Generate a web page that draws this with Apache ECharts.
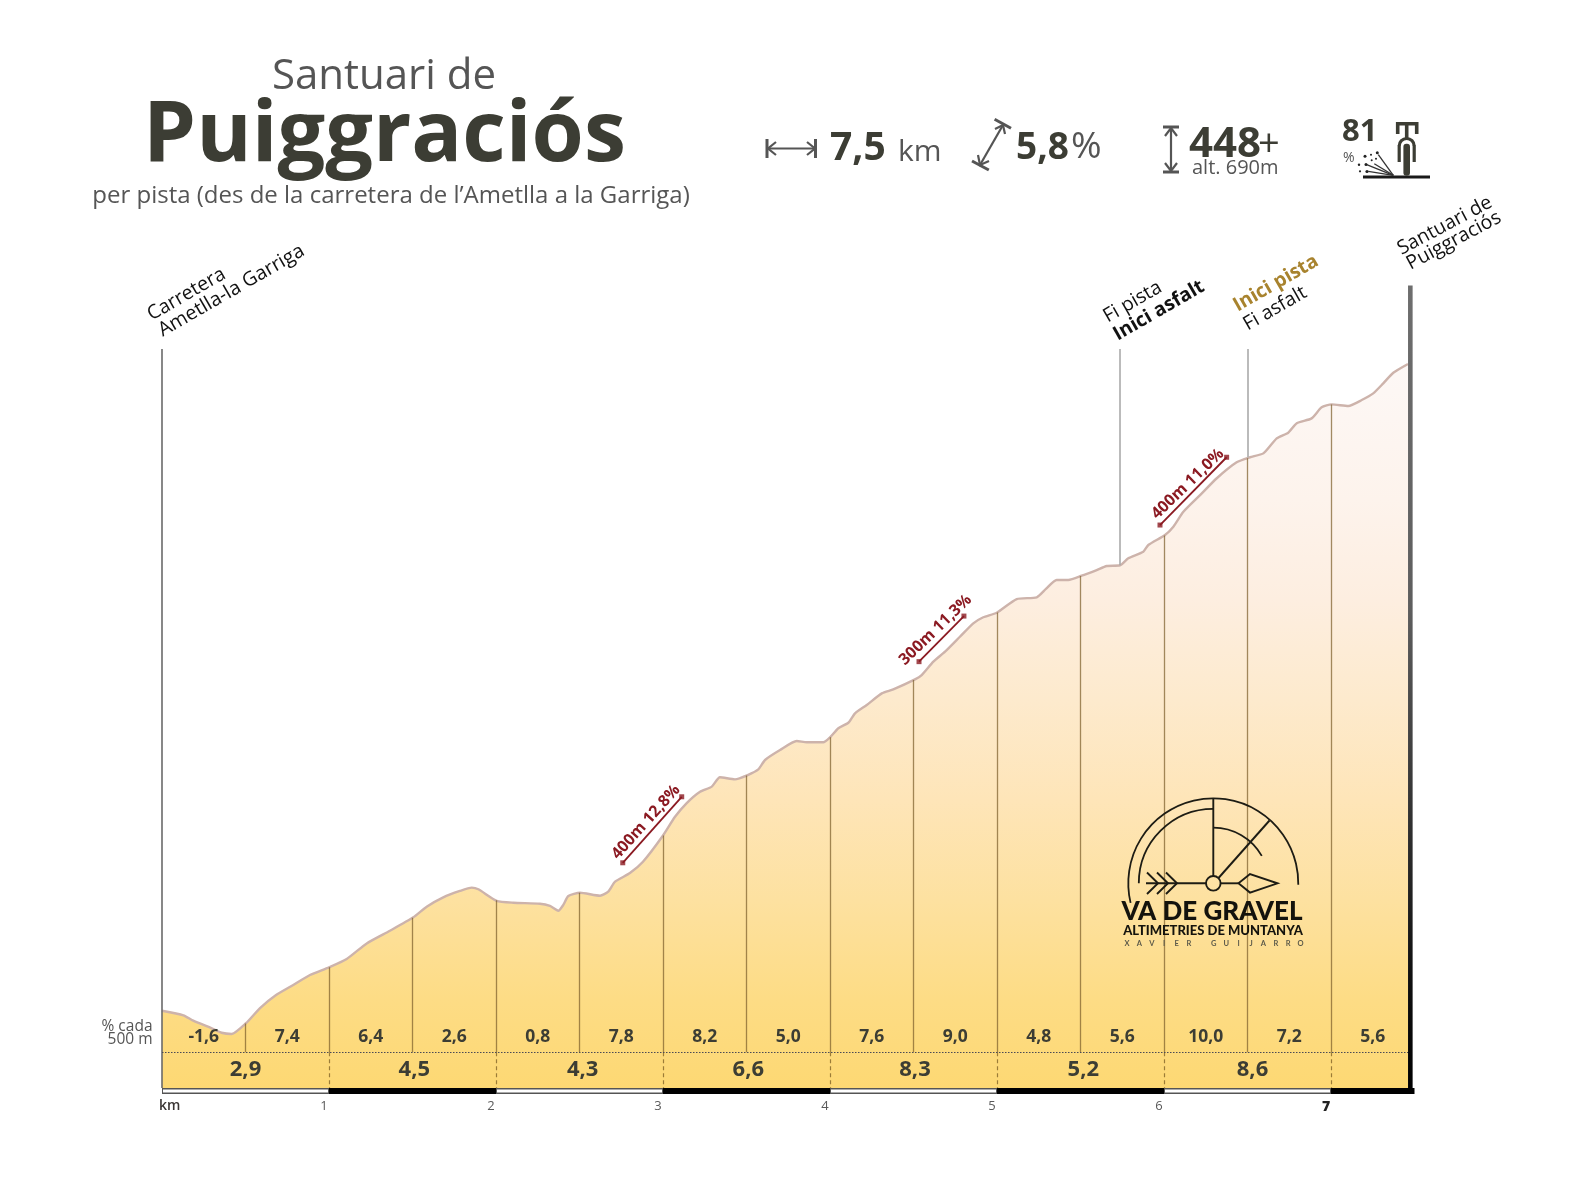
<!DOCTYPE html>
<html><head><meta charset="utf-8">
<style>html,body{margin:0;padding:0;background:#fff}#c{width:1575px;height:1200px}</style>
<script src="https://cdn.jsdelivr.net/npm/echarts@6/dist/echarts.min.js"></script>
</head><body><div id="c"></div>
<script>
const profileKm = [0,.128,.187,.298,.357,.417,.503,.587,.677,.786,.886,1,1.106,1.226,1.365,1.505,1.585,1.684,1.784,1.855,1.894,2.004,2.104,2.263,2.323,2.373,2.403,2.433,2.503,2.623,2.672,2.713,2.802,2.88,2.998,3.072,3.142,3.222,3.292,3.341,3.431,3.507,3.571,3.611,3.701,3.801,3.861,3.96,4,4.05,4.11,4.15,4.22,4.31,4.379,4.509,4.549,4.619,4.689,4.778,4.858,4.918,4.998,5.118,5.238,5.293,5.357,5.427,5.507,5.597,5.657,5.737,5.786,5.876,5.906,6.006,6.056,6.116,6.216,6.316,6.435,6.515,6.595,6.675,6.744,6.795,6.884,6.944,7.004,7.104,7.184,7.253,7.313,7.373,7.461];
const profileAlt = [255.9,252.8,249.2,244.1,241.1,240.3,247.5,257.7,266,273.2,279.9,285,290.6,301.1,309.6,318.6,325.7,332,336.3,338.5,337.4,329.7,328.4,327.7,326.2,323,326.9,332.9,335.1,333.1,335.8,342.5,348.3,355.9,373.2,386.1,395.3,402.9,406.3,412.6,411.2,414.1,417.9,424.2,430.9,436.9,436.1,436.1,439.4,445.5,449.2,455.5,461.1,468.9,471.6,478.3,481.2,490.2,496.9,506.9,515.9,520,523,532.2,533.4,539,545,545,547.9,551.7,554.4,554.9,559.6,564,568.5,575.2,580.8,590.8,602,613.3,624,627.4,630,640.1,643.9,650.2,653.5,660.9,662.9,661.8,665.8,670.3,677,684.1,690];
const halfKmMarks = [.5,1,1.5,2,2.5,3,3.5,4,4.5,5,5.5,6,6.5,7];
const kmMarks = [1,2,3,4,5,6,7];
const halfKmPos = [.25,.75,1.25,1.75,2.25,2.75,3.25,3.75,4.25,4.75,5.25,5.75,6.25,6.75,7.25];
const halfKmText = ['-1,6','7,4','6,4','2,6','0,8','7,8','8,2','5,0','7,6','9,0','4,8','5,6','10,0','7,2','5,6'];
const kmPos = [.5,1.511,2.519,3.511,4.509,5.517,6.53];
const kmText = ['2,9','4,5','4,3','6,6','8,3','5,2','8,6'];
const tickLabels = ['','1','2','3','4','5','6','7'];
const barStart = [0,1,2,3,4,5,6,7];
const barEnd = [1,2,3,4,5,6,7,7.5];
const noteText = ['400m 12,8%','300m 11,3%','400m 11,0%'];
const noteFromKm = [2.759,4.533,5.976], noteFromAlt = [355.2,490.2,581.9];
const noteToKm = [3.112,4.802,6.375], noteToAlt = [399.5,520.8,627.4];
const noteMidKm = [2.898,4.632,6.142], noteMidAlt = [382.5,511.5,609.5];
const noteAngle = [48,44,44];
const placeMarks = [{km:0,top:700,low:204},{km:5.737,top:700,low:554.9},{km:6.5,top:700,low:627.4}];
const dottedAlt = 228, barTopAlt = 204, baseAlt = 200, topAlt = 750, endKm = 7.475;

const FONT = '"Open Sans"';
const DARK = '#3c3d34', GREY = '#555555', RED = '#8b1a22';
const altAt = k => { for (let i=1;i<profileKm.length;i++) if (k<=profileKm[i]) { const t=(k-profileKm[i-1])/(profileKm[i]-profileKm[i-1]); return profileAlt[i-1]+t*(profileAlt[i]-profileAlt[i-1]); } return profileAlt[profileAlt.length-1]; };
const seg = (name, coords, color, width, type) => ({type:'lines',name,coordinateSystem:'cartesian2d',silent:true,polyline:false,z:4,
  data:coords.map(c=>({coords:c})),lineStyle:{color,width,type:type||'solid',opacity:1},effect:{show:false}});

const txt = (text,x,y,size,weight,fill,align,rot) => ({type:'text',x,y,rotation:(rot||0)*Math.PI/180,silent:true,
  style:{text,font:`${weight} ${size}px ${FONT}`,fill,textAlign:align||'left',textVerticalAlign:'middle'}});
const pl = (pts,stroke,w) => ({type:'polyline',silent:true,shape:{points:pts},style:{stroke,lineWidth:w,fill:null}});
const arc = (cx,cy,r,a,b,stroke,w) => ({type:'arc',silent:true,shape:{cx,cy,r,startAngle:a*Math.PI/180,endAngle:b*Math.PI/180,clockwise:true},style:{stroke,lineWidth:w,fill:null}});
const dot = (cx,cy,r,fill) => ({type:'circle',silent:true,shape:{cx,cy,r},style:{fill}});
const I='#555555', L='#1d1c14', B='#3c3d34';
const signature = 'XAVIER GUIJARRO'.split('');
const graphics = [
  txt('Santuari de',384,77,42,400,GREY,'center'),
  txt('Puiggraciós',384.5,137,84.5,700,DARK,'center'),
  txt('per pista (des de la carretera de l’Ametlla a la Garriga)',391,196,24,400,GREY,'center'),
  txt('7,5',830,149,39,700,DARK),txt('km',898,152,30,400,GREY),
  txt('5,8',1016,148,37,700,DARK),txt('%',1071,147,37,400,GREY),
  txt('448',1189,145,42,700,DARK),txt('+',1258,145,38,400,DARK),
  txt('alt. 690m',1192,168,20,400,GREY),
  txt('81',1342,132,31,700,DARK),txt('%',1343,158,14,400,GREY),
  pl([[767,139],[767,158]],I,3),pl([[815.5,139],[815.5,158]],I,3),pl([[768,148.5],[815,148.5]],I,2.2),
  pl([[776,142],[768,148.5],[776,155]],I,2.2),pl([[807,142],[815,148.5],[807,155]],I,2.2),
  pl([[994.6,119.3],[1011,128.3]],I,3),pl([[972,161],[988.8,170]],I,3),pl([[1003,125],[980,165]],I,2.2),
  pl([[995,129],[1003,125],[1005,134]],I,2.2),pl([[978,155],[980,165],[989,161]],I,2.2),
  pl([[1163,127],[1179,127]],I,3),pl([[1163,172],[1179,172]],I,3),pl([[1171,128],[1171,171]],I,2.2),
  pl([[1165,136],[1171,128],[1177,136]],I,2.2),pl([[1165,163],[1171,171],[1177,163]],I,2.2),
  pl([[1363,177],[1430,177]],'#1a1a1a',2.8),
  {type:'rect',silent:true,shape:{x:1403.4,y:143.7,width:6.6,height:32,r:3},style:{fill:B}},
  arc(1406.7,146,7.5,180,360,B,3.2),
  pl([[1399.2,145.5],[1399.2,162]],B,3.2),pl([[1414.2,145.5],[1414.2,162]],B,3.2),
  pl([[1406.7,123.7],[1406.7,139]],B,3.6),
  pl([[1397.7,134],[1397.7,123.7],[1416.7,123.7],[1416.7,134]],B,3.6),
  pl([[1393.3,175.3],[1378.3,154.7]],'#333',1.3),pl([[1393.3,175.3],[1374.3,163.7]],'#333',1.3),pl([[1393.3,175.3],[1366.7,164.7]],'#333',1.3),pl([[1393.3,175.3],[1368.3,171.3]],'#333',1.3),
  dot(1365,156.3,1.5,'#222'),dot(1371,154.7,1,'#222'),dot(1377.3,152.7,1.5,'#222'),dot(1359,164.7,1.2,'#222'),dot(1366,164.5,1.5,'#222'),dot(1360,171.3,1.1,'#222'),dot(1367,171.5,1.6,'#222'),dot(1371.7,160.3,1,'#222'),dot(1376,158.7,1,'#222'),
  txt('Carretera',149,316,19.5,400,'#111','left',30),
  txt('Ametlla-la Garriga',160,332,19.7,400,'#111','left',30),
  txt('Fi pista',1105,318,19.5,400,'#111','left',30),
  txt('Inici asfalt',1115,336,19.5,700,'#111','left',30),
  txt('Inici pista',1235,307,19.5,700,'#a8832e','left',30),
  txt('Fi asfalt',1245,326,19.5,400,'#111','left',30),
  txt('Santuari de',1399,250,19.5,400,'#111','left',28),
  txt('Puiggraciós',1408,265,19.5,400,'#111','left',28),
  txt('% cada',152.5,1027,15.5,400,GREY,'right'),txt('500 m',152.5,1040,15.5,400,GREY,'right'),
  txt('km',159,1106,14,600,'#3a3533'),
  // logo
  arc(1213.3,883.3,85,166.7,361,L,1.8),arc(1213.3,883.3,74.5,180,270,L,1.8),arc(1213.3,883.3,55.7,270,330.5,L,1.8),
  pl([[1213.3,798.3],[1213.3,876]],L,1.9),pl([[1218.5,878],[1269.5,820.5]],L,1.9),
  pl([[1146,883.3],[1206,883.3]],L,1.9),pl([[1220.6,883.3],[1238.5,883.3]],L,1.9),
  {type:'circle',silent:true,shape:{cx:1213.3,cy:883.3,r:7.3},style:{stroke:L,lineWidth:1.9,fill:null}},
  {type:'polygon',silent:true,shape:{points:[[1238.5,883.3],[1250,874],[1277.5,883.3],[1250,892.6]]},style:{stroke:L,lineWidth:1.9,fill:null}},
  pl([[1147,872.5],[1158,883.3],[1147,894]],L,1.9),pl([[1157,872.5],[1168,883.3],[1157,894]],L,1.9),pl([[1166,872.5],[1177,883.3],[1166,894]],L,1.9),
  {type:'text',x:1212,y:912,silent:true,style:{text:'VA DE GRAVEL',font:'900 26px Lato',fill:'#14130d',textAlign:'center',textVerticalAlign:'middle'}},
  {type:'text',x:1213,y:931,silent:true,style:{text:'ALTIMETRIES DE MUNTANYA',font:'900 13px Lato',fill:'#14130d',textAlign:'center',textVerticalAlign:'middle'}},
  ...signature.map((ch,i)=>({type:'text',x:1127+i*12.4,y:943.5,silent:true,style:{text:ch,font:'700 7.5px Lato',fill:'#5c5a4a',textAlign:'center',textVerticalAlign:'middle'}}))
].map(e=>Object.assign(e,{z:100}));

const vert = 'rgba(125,95,45,0.72)';
const option = {
  backgroundColor:'#fff', animation:false, graphic:{elements:graphics},
  grid:{left:162,width:1252.5,top:274.6,height:819.4,containLabel:false},
  xAxis:{type:'value',min:0,max:7.5,interval:1,splitLine:{show:false},axisLine:{show:false},axisTick:{show:false},
    axisLabel:{show:true,showMaxLabel:false,showMinLabel:false,margin:6,color:'#5a5a5a',fontFamily:FONT,fontSize:13,padding:[0,10,0,0],
      formatter:v=>{const s=tickLabels[v]||''; return v===7?'{b|'+s+'}':s;},rich:{b:{fontWeight:800,color:'#222',fontSize:14,fontFamily:FONT}}}},
  yAxis:{type:'value',min:baseAlt,max:topAlt,show:false},
  series:[
    {type:'line',name:'Perfil',data:profileKm.map((k,i)=>[k,profileAlt[i]]),showSymbol:false,smooth:0.2,z:2,silent:true,
      lineStyle:{color:'#cdb3ab',width:2.4},
      areaStyle:{opacity:1,origin:'start',color:new echarts.graphic.LinearGradient(0,0,0,1,[
        {offset:0,color:'#fdf8f6'},{offset:.186,color:'#fdf3ec'},{offset:.323,color:'#fdeee0'},{offset:.46,color:'#fdeacd'},
        {offset:.597,color:'#fee5b8'},{offset:.734,color:'#fde1a0'},{offset:.871,color:'#fddc85'},{offset:1,color:'#fdd872'}])}},
    seg('Parcials',halfKmMarks.map(k=>[[k,altAt(k)],[k,dottedAlt]]),vert,1.3),
    seg('Km',kmMarks.map(k=>[[k,dottedAlt],[k,barTopAlt]]),'rgba(130,100,40,0.8)',1.2,[4,3]),
    seg('Marques',[.5,1.5,2.5,3.5,4.5,5.5,6.5].map(k=>[[k,barTopAlt],[k,202.5]]),vert,1.2),
    seg('Punt0',[[[placeMarks[0].km,placeMarks[0].top],[placeMarks[0].km,placeMarks[0].low]]],'#6a6a6a',1.6),
    seg('Punts',placeMarks.slice(1).map(p=>[[p.km,p.top],[p.km,p.low]]),'#aaaaaa',1.6),
    seg('Punts500',[[[0,dottedAlt],[endKm,dottedAlt]]],'#4a4a55',1.1,[1.5,1.5]),
    {type:'custom',name:'Barra',coordinateSystem:'cartesian2d',clip:false,silent:true,z:5,data:barStart.map((s,i)=>[s,barEnd[i],i%2]),
      encode:{x:[0,1],y:[]},
      renderItem:(p,api)=>{const a=api.coord([api.value(0),barTopAlt]),b=api.coord([api.value(1),baseAlt]);
        const w=b[0]-a[0],h=b[1]-a[1],even=api.value(2)===0;
        return {type:'group',children:[
          {type:'rect',shape:{x:a[0],y:a[1],width:w,height:h},style:{fill:even?'#555':'#000'}},
          ...(even?[{type:'rect',shape:{x:a[0]+1,y:a[1]+1.4,width:w-2,height:h-3},style:{fill:'#fff'}}]:[])]};}},
    {type:'custom',name:'Final',coordinateSystem:'cartesian2d',clip:false,silent:true,z:6,data:[[endKm,742.6]],encode:{x:0,y:1},
      renderItem:(p,api)=>{const a=api.coord([api.value(0),api.value(1)]),b=api.coord([api.value(0),baseAlt]);
        return {type:'rect',shape:{x:a[0]-2.3,y:a[1],width:4.6,height:b[1]-a[1]},
          style:{fill:new echarts.graphic.LinearGradient(0,0,0,1,[{offset:0,color:'#6e6e6e'},{offset:.4,color:'#5e5e5e'},{offset:.85,color:'#111'},{offset:1,color:'#000'}])}};}},
    {type:'custom',name:'Percent500',coordinateSystem:'cartesian2d',clip:false,silent:true,z:7,data:halfKmPos.map(k=>[k,238]),encode:{x:0,y:1},
      renderItem:(p,api)=>{const c=api.coord([api.value(0),api.value(1)]);
        return {type:'text',x:c[0],y:c[1],style:{text:halfKmText[p.dataIndex],font:`700 17.5px ${FONT}`,fill:DARK,textAlign:'center',textVerticalAlign:'middle'}};}},
    {type:'custom',name:'Percent1000',coordinateSystem:'cartesian2d',clip:false,silent:true,z:7,data:kmPos.map(k=>[k,216]),encode:{x:0,y:1},
      renderItem:(p,api)=>{const c=api.coord([api.value(0),api.value(1)]);
        return {type:'text',x:c[0],y:c[1],style:{text:kmText[p.dataIndex],font:`700 22px ${FONT}`,fill:DARK,textAlign:'center',textVerticalAlign:'middle'}};}},
    seg('Rampes',noteFromKm.map((k,i)=>[[k,noteFromAlt[i]],[noteToKm[i],noteToAlt[i]]]),RED,1.8),
    {type:'scatter',name:'RampesPunts',silent:true,z:8,symbol:'rect',symbolSize:5,itemStyle:{color:RED},
      data:noteFromKm.flatMap((k,i)=>[[k,noteFromAlt[i]],[noteToKm[i],noteToAlt[i]]])},
    {type:'custom',name:'RampesText',coordinateSystem:'cartesian2d',clip:false,silent:true,z:8,data:noteMidKm.map((k,i)=>[k,noteMidAlt[i]]),encode:{x:0,y:1},
      renderItem:(p,api)=>{const c=api.coord([api.value(0),api.value(1)]);
        return {type:'text',x:c[0],y:c[1],rotation:noteAngle[p.dataIndex]*Math.PI/180,style:{text:noteText[p.dataIndex],font:`700 16px ${FONT}`,fill:RED,textAlign:'center',textVerticalAlign:'middle'}};}}
  ]
};
echarts.init(document.getElementById('c'),null,{renderer:'canvas'}).setOption(option);
</script></body></html>
